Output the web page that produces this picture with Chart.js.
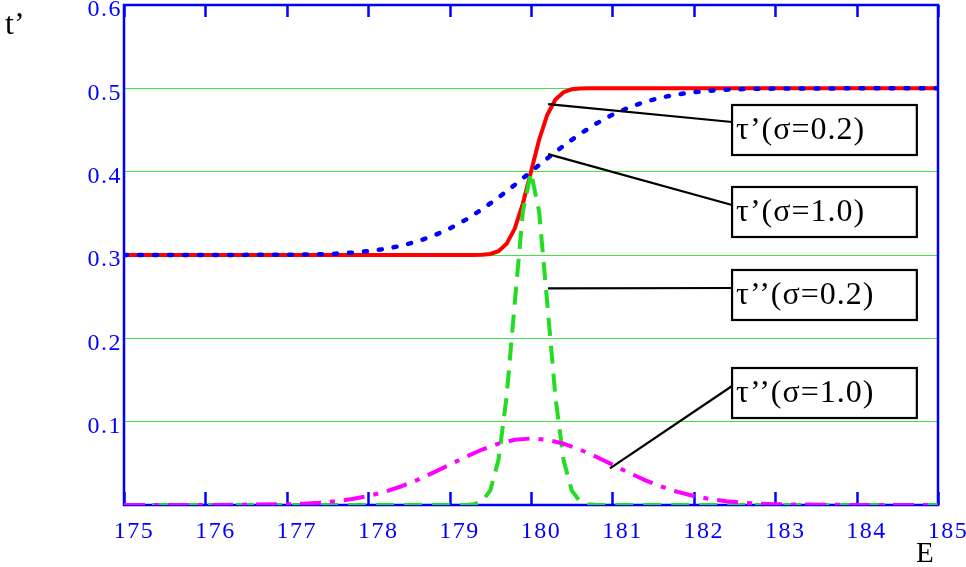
<!DOCTYPE html>
<html>
<head>
<meta charset="utf-8">
<script src="https://cdn.jsdelivr.net/npm/chart.js@4"></script>
<style>
  html, body { margin: 0; padding: 0; background: #fff; }
  #wrap { width: 966px; height: 567px; position: relative; }
</style>
</head>
<body>
<div id="wrap"><canvas id="chart" width="966" height="567"></canvas></div>
<script>
// ---- data ----
// fine E grid for the sigma = 0.2 curves
const E_NARROW = [175, 179, 179.1, 179.2, 179.3, 179.4, 179.5, 179.6, 179.7, 179.8, 179.9, 180,
  180.1, 180.2, 180.3, 180.4, 180.5, 180.6, 180.7, 180.8, 180.9, 181, 185];
const TAU1_S02 = [0.3, 0.3, 0.3, 0.3, 0.3, 0.3003, 0.3012, 0.3046, 0.3134, 0.3317, 0.3617, 0.4,
  0.4383, 0.4683, 0.4866, 0.4954, 0.4988, 0.4997, 0.5, 0.5, 0.5, 0.5, 0.5];
const TAU2_S02 = [0, 0, 0, 0.0001, 0.0009, 0.0044, 0.0175, 0.054, 0.1295, 0.242, 0.352, 0.399,
  0.352, 0.242, 0.1295, 0.054, 0.0175, 0.0044, 0.0009, 0.0001, 0, 0, 0];

// wider E grid for the sigma = 1.0 curves
const E_WIDE = [175, 176, 177, 177.2, 177.4, 177.6, 177.8, 178, 178.2, 178.4, 178.6, 178.8, 179,
  179.2, 179.4, 179.6, 179.8, 180, 180.2, 180.4, 180.6, 180.8, 181, 181.2, 181.4, 181.6, 181.8,
  182, 182.2, 182.4, 182.6, 182.8, 183, 184, 185];
const TAU1_S10 = [0.3, 0.3, 0.3003, 0.3005, 0.3009, 0.3016, 0.3028, 0.3046, 0.3072, 0.311, 0.3162,
  0.323, 0.3317, 0.3424, 0.3549, 0.3689, 0.3841, 0.4, 0.4159, 0.4311, 0.4451, 0.4576, 0.4683,
  0.477, 0.4838, 0.489, 0.4928, 0.4954, 0.4972, 0.4984, 0.4991, 0.4995, 0.4997, 0.5, 0.5];
const TAU2_S10 = [0, 0, 0.0009, 0.0016, 0.0027, 0.0045, 0.0071, 0.0108, 0.0158, 0.0222, 0.0299,
  0.0388, 0.0484, 0.0579, 0.0666, 0.0737, 0.0782, 0.0798, 0.0782, 0.0737, 0.0666, 0.0579, 0.0484,
  0.0388, 0.0299, 0.0222, 0.0158, 0.0108, 0.0071, 0.0045, 0.0027, 0.0016, 0.0009, 0, 0];

const X_TICKS = [175, 176, 177, 178, 179, 180, 181, 182, 183, 184, 185];
const Y_TICKS = [0.1, 0.2, 0.3, 0.4, 0.5, 0.6];

// callout labels: point on curve, box (left/right E, top/bottom value), where leader meets box
const NOTES = [
  { text: 'τ’(σ=0.2)',  from: [180.21, 0.481], to: [182.47, 0.4596], box: [182.47, 184.74, 0.48, 0.42] },
  { text: 'τ’(σ=1.0)',  from: [180.21, 0.421], to: [182.47, 0.36],   box: [182.47, 184.74, 0.3816, 0.3216] },
  { text: 'τ’’(σ=0.2)', from: [180.21, 0.26],  to: [182.47, 0.2604], box: [182.47, 184.74, 0.282, 0.222] },
  { text: 'τ’’(σ=1.0)', from: [180.97, 0.044], to: [182.47, 0.1428], box: [182.47, 184.74, 0.1644, 0.1044] }
];

const SERIF = "'Liberation Serif', 'DejaVu Serif', serif";
const AXIS_BLUE = '#0000ff';

const pts = (xs, ys) => xs.map((x, i) => ({ x: x, y: ys[i] }));

// frame, inner ticks and callouts
const decor = {
  id: 'decor',
  beforeDraw(chart) {
    chart.ctx.letterSpacing = '1.5px';
  },
  beforeDatasetsDraw(chart) {
    const { ctx, chartArea: a, scales } = chart;
    ctx.save();
    ctx.strokeStyle = AXIS_BLUE;
    ctx.lineWidth = 2.5;
    ctx.strokeRect(a.left, a.top, a.right - a.left, a.bottom - a.top);
    ctx.beginPath();
    X_TICKS.forEach(v => {
      const px = Math.round(scales.x.getPixelForValue(v)) + 0.5;
      ctx.moveTo(px, a.bottom); ctx.lineTo(px, a.bottom - 13);
      ctx.moveTo(px, a.top); ctx.lineTo(px, a.top + 12);
    });
    ctx.stroke();
    ctx.restore();
  },
  afterDatasetsDraw(chart) {
    const { ctx, scales: { x, y } } = chart;
    ctx.save();
    ctx.strokeStyle = '#000';
    ctx.lineWidth = 2.2;
    NOTES.forEach(n => {
      ctx.beginPath();
      ctx.moveTo(x.getPixelForValue(n.from[0]), y.getPixelForValue(n.from[1]));
      ctx.lineTo(x.getPixelForValue(n.to[0]), y.getPixelForValue(n.to[1]));
      ctx.stroke();
      const l = x.getPixelForValue(n.box[0]), r = x.getPixelForValue(n.box[1]);
      const t = y.getPixelForValue(n.box[2]), b = y.getPixelForValue(n.box[3]);
      ctx.fillStyle = '#fff';
      ctx.fillRect(l, t, r - l, b - t);
      ctx.strokeRect(l, t, r - l, b - t);
      ctx.fillStyle = '#000';
      ctx.letterSpacing = '1px';
      ctx.font = '32px ' + SERIF;
      ctx.textAlign = 'left';
      ctx.textBaseline = 'middle';
      ctx.fillText(n.text, l + 4, (t + b) / 2 + 1);
    });
    // axis names
    ctx.letterSpacing = '0px';
    ctx.font = '32px ' + SERIF;
    ctx.textBaseline = 'alphabetic';
    ctx.fillText('t’', 5, 34);
    ctx.font = '29px ' + SERIF;
    ctx.fillText('E', 916, 562);
    ctx.restore();
  }
};

new Chart(document.getElementById('chart'), {
  type: 'line',
  data: {
    datasets: [
      { label: 'tau1 s0.2', data: pts(E_NARROW, TAU1_S02), borderColor: '#ff0000', borderWidth: 4, order: 4 },
      { label: 'tau1 s1.0', data: pts(E_WIDE, TAU1_S10), borderColor: '#0000ff', borderWidth: 4.5,
        borderDash: [3, 12], borderCapStyle: 'round', order: 3 },
      { label: 'tau2 s0.2', data: pts(E_NARROW, TAU2_S02), borderColor: '#22dd22', borderWidth: 4,
        borderDash: [18, 10], order: 2 },
      { label: 'tau2 s1.0', data: pts(E_WIDE, TAU2_S10), borderColor: '#ff00ff', borderWidth: 4,
        borderDash: [21, 9, 5, 9], order: 1 }
    ]
  },
  options: {
    responsive: false,
    animation: false,
    devicePixelRatio: 1,
    layout: { padding: { top: 5, right: 28, left: 0, bottom: 0 } },
    elements: { point: { radius: 0 }, line: { tension: 0, fill: false } },
    plugins: { legend: { display: false }, tooltip: { enabled: false } },
    scales: {
      x: {
        type: 'linear', min: 175, max: 185,
        afterBuildTicks: s => { s.ticks = X_TICKS.map(v => ({ value: v })); },
        afterFit: s => { s.height = 62; s.paddingLeft = 0; s.paddingRight = 0; },
        grid: { display: false },
        border: { display: false },
        ticks: { color: AXIS_BLUE, font: { family: SERIF, size: 24 }, padding: 4, labelOffset: 10, maxRotation: 0 }
      },
      y: {
        type: 'linear', min: 0, max: 0.6,
        afterBuildTicks: s => { s.ticks = [0].concat(Y_TICKS).map(v => ({ value: v })); },
        afterFit: s => { s.width = 124; s.paddingTop = 0; s.paddingBottom = 0; },
        grid: {
          drawTicks: false,
          lineWidth: 1,
          color: c => (c.tick && c.tick.value > 0.05 && c.tick.value < 0.55) ? '#44e044' : 'rgba(0,0,0,0)'
        },
        border: { display: false },
        ticks: {
          color: AXIS_BLUE, font: { family: SERIF, size: 24 }, padding: 2, labelOffset: 5,
          callback: v => v === 0 ? '' : v.toFixed(1)
        }
      }
    }
  },
  plugins: [decor]
});
</script>
</body>
</html>
